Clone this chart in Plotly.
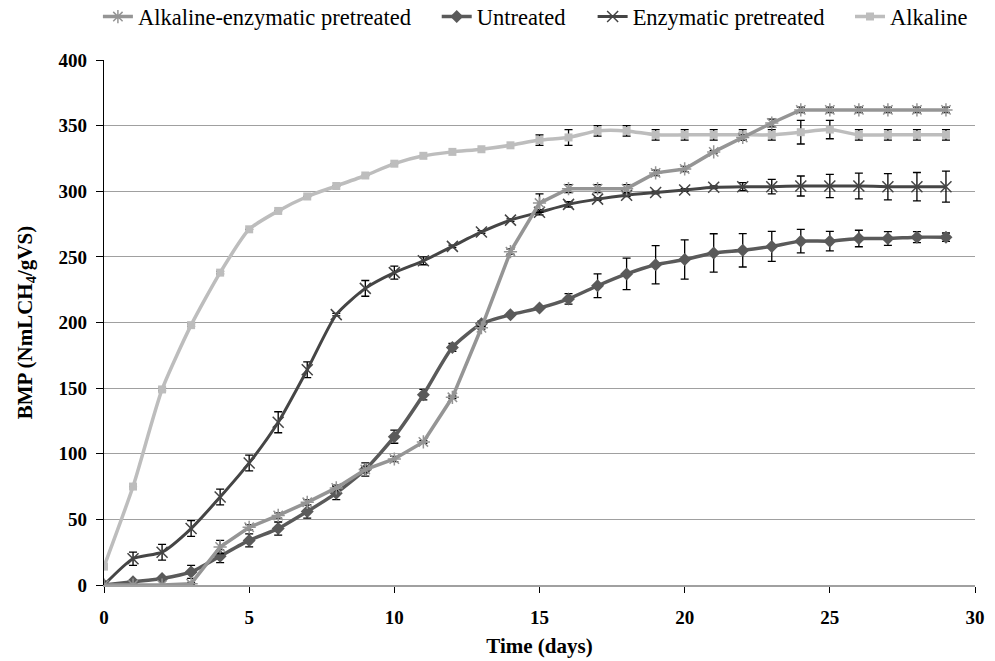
import plotly.graph_objects as go

days = list(range(30))

alk_enz = [0, 0, 0, 1, 29, 44, 53, 63, 74, 88, 96, 109, 143, 196, 254, 291, 302, 302, 302, 314, 317,
           330, 341, 352, 362, 362, 362, 362, 362, 362]
alk_enz_err = [0, 0, 0, 1, 5, 2, 2, 2, 2, 2, 2, 1, 1, 1, 2, 7, 3, 3, 3, 2, 2,
               1, 2, 3, 2, 2, 2, 2, 2, 2]

untreated = [0, 2.5, 5, 10, 22, 34, 43, 56, 70, 88, 113, 145, 181, 199, 206, 211, 218, 228, 237, 244, 248,
             253, 255, 258, 262, 262, 264, 264, 265, 265]
untreated_err = [0, 1, 1, 5, 5, 5, 5, 5, 5, 5, 5, 4, 3, 2, 1, 1, 4, 9, 12, 14.5, 15,
                 14.6, 12.7, 11.4, 8.9, 7.4, 6.3, 5.3, 4.2, 3.2]

enzymatic = [0, 20, 25, 43, 67, 93, 124, 164, 206, 226, 238, 247, 258, 269, 278, 284, 290, 294, 297, 299, 301,
             303, 303.5, 303.5, 304, 304, 304, 303.5, 303.5, 303.5]
enzymatic_err = [0, 5, 6, 6, 6, 6, 8, 6, 1, 6, 5, 3, 1, 1, 1, 2, 2, 1, 1, 1, 1,
                 1, 3, 5.5, 7.6, 8.9, 9.8, 10, 10.8, 11.8]

alkaline = [14, 75, 149, 198, 238, 271, 285, 296, 304, 312, 321, 327, 330, 332, 335, 339, 341, 346, 346, 343, 343,
            343, 343, 343, 345, 347, 343, 343, 343, 343]
alkaline_err = [0, 0, 1, 1, 1, 0, 0, 0, 0, 0, 0, 0, 0, 0, 0, 4, 6, 4, 4, 4, 4,
                4, 4, 4, 9, 7, 4, 4, 4, 4]

FONT = "Liberation Serif"

def err(arr):
    return dict(type="data", array=arr, visible=True, color="black", thickness=1.3, width=4)

fig = go.Figure()
fig.add_trace(go.Scatter(
    x=days, y=alkaline, name="Alkaline", mode="lines+markers",
    line=dict(color="#BDBDBD", width=3.5, shape="spline", smoothing=0.6),
    marker=dict(symbol="square", size=8, color="#BDBDBD"),
    error_y=err(alkaline_err), legend="legend4"))
fig.add_trace(go.Scatter(
    x=days, y=untreated, name="Untreated", mode="lines+markers",
    line=dict(color="#5A5A5A", width=3.5, shape="spline", smoothing=0.6),
    marker=dict(symbol="diamond", size=10, color="#5A5A5A"),
    error_y=err(untreated_err), legend="legend2"))
fig.add_trace(go.Scatter(
    x=days, y=enzymatic, name="Enzymatic pretreated", mode="lines+markers",
    line=dict(color="#454545", width=3, shape="spline", smoothing=0.6),
    marker=dict(symbol="x-thin-open", size=11, line=dict(color="#454545", width=1.5)),
    error_y=err(enzymatic_err), legend="legend3"))
fig.add_trace(go.Scatter(
    x=days, y=alk_enz, name="Alkaline-enzymatic pretreated", mode="lines+markers",
    line=dict(color="#959595", width=3.5),
    marker=dict(symbol="asterisk-open", size=11, line=dict(color="#959595", width=1.5)),
    error_y=err(alk_enz_err), legend="legend"))

def leg(x):
    return dict(orientation="h", x=x, xanchor="left", y=1.082, yanchor="middle",
                font=dict(family=FONT, size=22.5, color="black"),
                itemwidth=30, bgcolor="rgba(0,0,0,0)")

fig.update_layout(
    width=995, height=661,
    paper_bgcolor="white", plot_bgcolor="white",
    margin=dict(l=104, r=20, t=60, b=76, autoexpand=False),
    font=dict(family=FONT, color="black"),
    legend=leg(-0.007),
    legend2=leg(0.382),
    legend3=leg(0.561),
    legend4=leg(0.8565),
    showlegend=True,
)
fig.update_xaxes(
    range=[0, 30], tickvals=[0, 5, 10, 15, 20, 25, 30], ticks="outside", ticklen=6,
    tickcolor="black", showgrid=False, showline=True, linecolor="#A0A0A0", linewidth=2,
    zeroline=False, tickfont=dict(family=FONT, size=19, color="black", weight="bold"),
    ticklabelstandoff=8,
    title=dict(text="<b>Time (days)</b>", font=dict(family=FONT, size=21, color="black"), standoff=12),
)
fig.update_yaxes(
    range=[0, 400], tickvals=list(range(0, 401, 50)), ticks="outside", ticklen=7,
    tickcolor="black", showgrid=True, gridcolor="#A0A0A0", gridwidth=1.3,
    showline=True, linecolor="black", linewidth=1.3, zeroline=False,
    tickfont=dict(family=FONT, size=19, color="black", weight="bold"),
    ticklabelstandoff=5,
    title=dict(text="<b>BMP (NmLCH<sub>4</sub>/gVS)</b>", font=dict(family=FONT, size=21, color="black"), standoff=20),
)

fig.write_html("out.html", config={"displayModeBar": False},
               post_script="document.body.style.margin='0px';")
